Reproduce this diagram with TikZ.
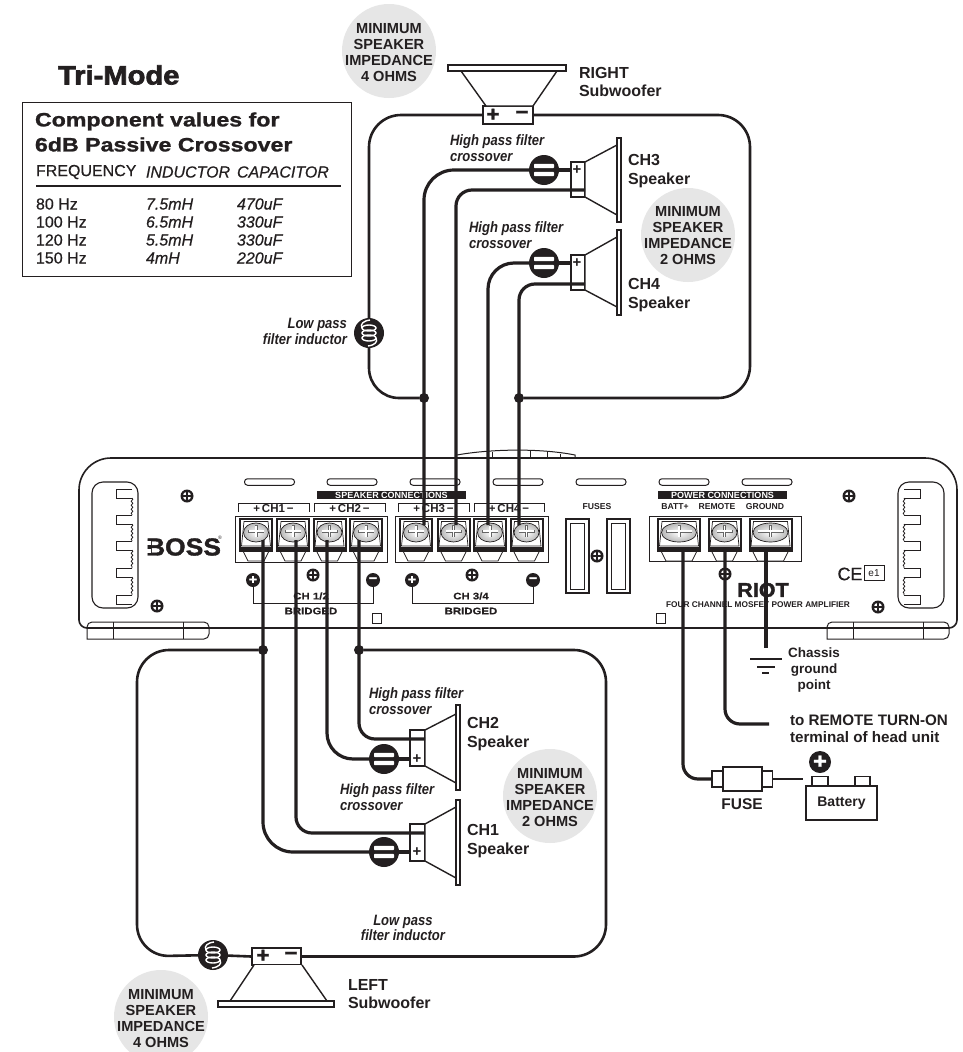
\documentclass[tikz,border=0pt]{standalone}
\usepackage{fontspec}
\setmainfont{Liberation Sans}
\usetikzlibrary{decorations.pathmorphing}
\newfontfamily\heavyf[FakeStretch=1.08,FakeBold=1.5]{Liberation Sans}
\newfontfamily\titlef[FakeStretch=1.1,FakeBold=2.5]{Liberation Sans}
\newfontfamily\widef[FakeStretch=1.2,FakeBold=1.2]{Liberation Sans}
\newfontfamily\tinyf[FakeStretch=1.2,FakeBold=0.4]{Liberation Sans}
\newfontfamily\condf[FakeStretch=0.87]{Liberation Sans}
\newfontfamily\semif[FakeBold=0.5]{Liberation Sans}
\definecolor{ink}{HTML}{231F20}
\definecolor{disc}{HTML}{E6E6E6}
\newcommand\fs[2]{\fontsize{#1}{#2}\selectfont}
\tikzset{
  wire/.style={draw=ink,line width=3.2},
  loopwire/.style={draw=ink,line width=2.6},
  thin line/.style={draw=ink,line width=1.1},
  part/.style={draw=ink,line width=1.4,fill=white},
  txt/.style={inner sep=0,outer sep=0,text=ink},
  lab/.style={txt,anchor=west,align=left,font=\bfseries\fs{16}{18.6}},
  hpf/.style={txt,anchor=west,align=left,font=\condf\bfseries\itshape\fs{15}{15.5}},
  lpf/.style={hpf},
  imptext/.style={txt,align=center,font=\bfseries\fs{14.6}{16}},
  disk/.style={circle,fill=disc,minimum size=94,inner sep=0},
  amptext/.style={txt,font=\bfseries\fs{8.6}{10}},
  jdot/.style={circle,fill=ink,minimum size=10,inner sep=0},
  filt/.style={circle,fill=ink,minimum size=30,inner sep=0,path picture={
      \fill[white,rounded corners=0.8] ([xshift=-10,yshift=1.8]path picture bounding box.center) rectangle ([xshift=10,yshift=6.2]path picture bounding box.center);
      \fill[white,rounded corners=0.8] ([xshift=-10,yshift=-6.2]path picture bounding box.center) rectangle ([xshift=10,yshift=-1.8]path picture bounding box.center);
  }},
  coil/.style={circle,fill=ink,minimum size=30,inner sep=0,path picture={
      \draw[white,line width=1.4] (path picture bounding box.center) ellipse [x radius=7,y radius=3];
      \draw[white,line width=1.4] ([yshift=5]path picture bounding box.center) ellipse [x radius=7,y radius=3];
      \draw[white,line width=1.4] ([yshift=-5]path picture bounding box.center) ellipse [x radius=7,y radius=3];
      \draw[white,line width=1.4] ([xshift=1,yshift=13]path picture bounding box.center) .. controls ([xshift=-6,yshift=12]path picture bounding box.center) and ([xshift=-9,yshift=9]path picture bounding box.center) .. ([xshift=-7,yshift=5]path picture bounding box.center);
      \draw[white,line width=1.4] ([xshift=-1,yshift=-13]path picture bounding box.center) .. controls ([xshift=6,yshift=-12]path picture bounding box.center) and ([xshift=9,yshift=-9]path picture bounding box.center) .. ([xshift=7,yshift=-5]path picture bounding box.center);
  }},
  screwn/.style={circle,fill=ink,minimum size=13,inner sep=0,path picture={
      \fill[white] (path picture bounding box.center) circle [radius=4.2];
      \draw[ink,line width=1.5] ([xshift=-5]path picture bounding box.center) -- ([xshift=5]path picture bounding box.center);
      \draw[ink,line width=1.5] ([yshift=-5]path picture bounding box.center) -- ([yshift=5]path picture bounding box.center);
  }},
  pol/.style={circle,fill=ink,minimum size=14,inner sep=0,text=white,font=\heavyf\bfseries\fs{13}{13}},
  slotn/.style={draw=ink,line width=1,rounded corners=3,minimum width=50,minimum height=6.5,inner sep=0,fill=white},
  banner/.style={fill=ink,text=white,inner sep=0,minimum height=8,font=\bfseries\fs{9}{9}},
}
% terminal: name, centre x, half width
\newcommand\term[3]{%
  \coordinate (#1) at (#2,535);
  \draw[ink,line width=.7,fill=white] ({#2-#3+3},551) -- ({#2-#3+8},561) -- ({#2+#3-8},561) -- ({#2+#3-3},551);
  \draw[ink,line width=2,fill=white] ({#2-#3},519) rectangle ({#2+#3},551);
  \draw[ink,line width=.7] ({#2-#3+4},521.5) -- ({#2+#3-4},521.5) -- ({#2+#3-1.5},546) -- ({#2-#3+1.5},546) -- cycle;
  \fill[ink] ({#2-#3},546.5) rectangle ({#2+#3},551);
  \shade[inner color=white,outer color=black!28] (#2,532.5) ellipse [x radius=#3-3.5,y radius=9.5];
  \draw[ink,line width=.7] (#2,532.5) ellipse [x radius=#3-3.5,y radius=9.5];
  \draw[black!60,line width=3] ({#2-#3+8},531) -- ({#2+#3-8},531);
  \draw[black!60,line width=3] (#2,525) -- (#2,537);
  \draw[white,line width=1.4] ({#2-#3+8.5},531) -- ({#2+#3-8.5},531);
  \draw[white,line width=1.4] (#2,525.5) -- (#2,536.5);
}
% heat-sink handle, drawn at the left; used mirrored at the right
\newcommand\handle{%
  \draw[ink,line width=1.1,rounded corners=11] (92,482) rectangle (138,608);
  \foreach \ya/\yb in {489/515,515/541,541/568,568/595}{
    \draw[ink,line width=1] (132,\ya) -- (116,\ya) -- (116,\ya+9) -- (132,\ya+9);
    \draw[ink,line width=.8,decorate,decoration={snake,amplitude=.8,segment length=4}] (132,\ya+9) -- (132,\yb);
  }
  \draw[ink,line width=1] (132,595) -- (116,595) -- (116,604) -- (132,604);
}
\newcommand\foot[1]{%
  \draw[ink,line width=1,rounded corners=5] (#1,639) -- (#1,622) -- (#1+122,622) -- (#1+122,639) [sharp corners] -- cycle;
  \draw[ink,line width=1] (#1+26,622) -- (#1+26,639) (#1+96,622) -- (#1+96,639);
}
\begin{document}
\begin{tikzpicture}[x=1pt,y=-1pt]
\useasboundingbox (0,0) rectangle (962,1052);
\clip (0,0) rectangle (962,1052);
\fill[white] (0,0) rectangle (962,1052);

% ---------- grey impedance disks
\node[disk] (d1) at (389,51) {};
\node[disk] (d2) at (688,235) {};
\node[disk] (d3) at (550,796) {};
\node[disk] (d4) at (161,1017) {};
\node[imptext] (d1t) at (389,53) {MINIMUM\\SPEAKER\\IMPEDANCE\\4 OHMS};
\node[imptext] (d2t) at (688,236) {MINIMUM\\SPEAKER\\IMPEDANCE\\2 OHMS};
\node[imptext] (d3t) at (550,798) {MINIMUM\\SPEAKER\\IMPEDANCE\\2 OHMS};
\node[imptext] (d4t) at (161,1019) {MINIMUM\\SPEAKER\\IMPEDANCE\\4 OHMS};

% ---------- title and table
\node[txt,anchor=west,font=\titlef\bfseries\fs{26.5}{26.5}] (title) at (58,75) {Tri-Mode};
\node[draw=ink,line width=1,minimum width=329,minimum height=174,inner sep=0] (tbl) at (186.5,189) {};
\node[txt,anchor=west,align=left,font=\widef\bfseries\fs{19.3}{25}] (tblh) at (35,132) {Component values for\\6dB Passive Crossover};
\node[txt,anchor=west,font=\semif\fs{16}{16}] (c1h) at (36,172) {FREQUENCY};
\node[txt,anchor=west,font=\semif\itshape\fs{16}{16}] (c2h) at (146,172) {INDUCTOR};
\node[txt,anchor=west,font=\semif\itshape\fs{16}{16}] (c3h) at (237,172) {CAPACITOR};
\coordinate (ruleA) at (36,186); \coordinate (ruleB) at (341,186);
\draw[ink,line width=1.6] (ruleA) -- (ruleB);
\node[txt,anchor=west,align=left,font=\semif\fs{16}{18}] (c1) at (36,231) {80 Hz\\100 Hz\\120 Hz\\150 Hz};
\node[txt,anchor=west,align=left,font=\semif\itshape\fs{16}{18}] (c2) at (146,231) {7.5mH\\6.5mH\\5.5mH\\4mH};
\node[txt,anchor=west,align=left,font=\semif\itshape\fs{16}{18}] (c3) at (237,231) {470uF\\330uF\\330uF\\220uF};

% ---------- amplifier body
\draw[ink,line width=1.6] (100,628) [rounded corners=8] -- (79,628) [rounded corners=32] -- (79,458) -- (957,458) [rounded corners=8] -- (957,628) -- cycle;
\draw[ink,line width=1] (457,455) .. controls (490,449) and (540,448) .. (575,455) -- (575,458);
\foreach \x/\y in {492/451.5,530/451,547/452,560/453.5}{\draw[ink,line width=.8] (\x,\y) -- (\x,458);}
\foot{87}
\foot{827}
\handle
\begin{scope}[shift={(1036,0)},xscale=-1]
\handle
\end{scope}
\foreach \n/\x in {s1/269.5,s2/352,s3/435,s4/518,s5/601,s6/684,s7/767}{\node[slotn] (\n) at (\x,482) {};}
\node[banner,minimum width=149] (spkb) at (391.5,495) {SPEAKER CONNECTIONS};
\node[banner,minimum width=129] (pwrb) at (722.5,495) {POWER CONNECTIONS};

% brackets + labels
\foreach \a/\b in {238/309,314/385,398/469,474/544}{\draw[ink,line width=.9] (\a,512) -- (\a,503.5) -- (\b,503.5) -- (\b,512);}
\foreach \n/\x/\t in {b1/273.5/CH1,b2/349.5/CH2,b3/433.5/CH3,b4/509/CH4}{
  \node[txt,font=\bfseries\fs{11.5}{11.5},fill=white,inner xsep=1,inner ysep=0] (\n) at (\x,509) {+\,\t\,−};
}
% terminal blocks
\draw[ink,line width=1,fill=white] (235,516) rectangle (387,562);
\draw[ink,line width=1,fill=white] (395,516) rectangle (548,562);
\draw[ink,line width=1,fill=white] (649,516) rectangle (801,561);
\term{tA}{256}{16}\term{tB}{293}{16}\term{tC}{329.5}{16}\term{tD}{366}{16}
\term{tE}{416}{16}\term{tF}{453.5}{16}\term{tG}{490}{16}\term{tH}{526.5}{16}
\term{tI}{679}{21}\term{tJ}{724.5}{16}\term{tK}{770.5}{21}
\node[amptext] (pb) at (675,507) {BATT+};
\node[amptext] (pr) at (717,507) {REMOTE};
\node[amptext] (pg) at (765,507) {GROUND};
\node[amptext] (ff) at (597,507) {FUSES};
% fuses
\foreach \a in {566,607}{
  \draw[ink,line width=2] (\a,519) rectangle (\a+22.5,593);
  \draw[ink,line width=.6] (\a+4,523) rectangle (\a+18.5,589);
}
% screws
\foreach \n/\x/\y in {sa/187/496,sb/157/606,sc/313/575,sd/472/575,se/597/556,sf/725/574,sg/849/496,sh/878/607}{
  \node[screwn] (\n) at (\x,\y) {};
}
% bridged markers
\node[pol] (p1) at (253,580) {+};
\node[pol] (m1) at (373,580) {−};
\node[pol] (p2) at (412,580) {+};
\node[pol] (m2) at (533,580) {−};
\draw[ink,line width=.9] (p1) -- (253,603) -- (373,603) -- (m1);
\draw[ink,line width=.9] (p2) -- (412,603) -- (533,603) -- (m2);
\node[txt,font=\tinyf\bfseries\fs{9.5}{9.5},fill=white,inner xsep=1] (br1a) at (311,596) {CH 1/2};
\node[txt,font=\tinyf\bfseries\fs{9.5}{9.5},fill=white,inner xsep=1] (br1b) at (311,611) {BRIDGED};
\node[txt,font=\tinyf\bfseries\fs{9.5}{9.5},fill=white,inner xsep=1] (br2a) at (471,596) {CH 3/4};
\node[txt,font=\tinyf\bfseries\fs{9.5}{9.5},fill=white,inner xsep=1] (br2b) at (471,611) {BRIDGED};
% small squares
\draw[ink,line width=.9] (372,613) rectangle (381,623);
\draw[ink,line width=.9] (656,613) rectangle (665,623);
% logo etc
\node[txt,anchor=west,font=\heavyf\bfseries\fs{24.5}{24.5}] (boss) at (146,547) {BOSS};
\fill[white] (145,540.6) rectangle (151,544.6);
\fill[white] (145,549.4) rectangle (151,553.4);
\node[txt,font=\fs{5}{5}] (reg) at (220,538) {®};
\node[txt,font=\heavyf\bfseries\fs{20}{20}] (riot) at (763,590) {RIOT};
\node[txt,anchor=west,font=\bfseries\fs{8.3}{8.3}] (four) at (666,605) {FOUR CHANNEL MOSFET POWER AMPLIFIER};
\node[txt,font=\semif\fs{18}{18}] (ce) at (850,574) {CE};
\node[draw=ink,line width=.9,minimum width=20,minimum height=15,inner sep=0,font=\fs{10}{10},text=ink] (e1) at (874,573) {e1};

% ---------- speakers: upper group
\node[part,minimum width=50,minimum height=18,inner sep=0] (subR) at (508,115) {};
\draw[part] (461,71) -- (486,106) -- (533,106) -- (557,71) -- cycle;
\draw[part,line width=1.7] (448,65) rectangle (566,71);
\draw[part] (571,162) rectangle (585,197);
\draw[part] (585,162) -- (617,145) -- (617,215) -- (585,197) -- cycle;
\draw[part] (617,138) rectangle (621,222);
\draw[part] (571,255) rectangle (585,290);
\draw[part] (585,255) -- (617,237) -- (617,307) -- (585,290) -- cycle;
\draw[part] (617,230) rectangle (621,315);
% lower group
\draw[part] (410,730) rectangle (425,766);
\draw[part] (425,730) -- (456,714) -- (456,783) -- (425,766) -- cycle;
\draw[part] (456,705) rectangle (460,790);
\draw[part] (410,824) rectangle (425,861);
\draw[part] (425,824) -- (456,807) -- (456,878) -- (425,861) -- cycle;
\draw[part] (456,800) rectangle (460,885);
\node[part,minimum width=49,minimum height=17,inner sep=0] (subL) at (276.5,956.5) {};
\draw[part] (254,965) -- (230,1001) -- (327,1001) -- (302,965);
\draw[part,line width=1.7] (218,1001) rectangle (334,1007);

% ---------- nodes on the wires
\node[filt] (hp3) at (544,170) {};
\node[filt] (hp4) at (544,263) {};
\node[filt] (hp2) at (384,759) {};
\node[filt] (hp1) at (384,852) {};
\node[coil] (ind1) at (369,333) {};
\node[coil] (ind2) at (213,955) {};
\node[jdot] (ja) at (424,398) {};
\node[jdot] (jb) at (519,398) {};
\node[jdot] (jc) at (263,650) {};
\node[jdot] (jd) at (359,650) {};

% named wire points
\coordinate (W3p) at (424,525); \coordinate (W3m) at (456,525);
\coordinate (W4p) at (488,525); \coordinate (W4m) at (519,525);
\coordinate (W1p) at (263,540); \coordinate (W1m) at (296,540);
\coordinate (W2p) at (327,540); \coordinate (W2m) at (359,540);
\coordinate (S3p) at (571,170); \coordinate (S3m) at (585,190);
\coordinate (S4p) at (571,263); \coordinate (S4m) at (585,284);
\coordinate (S2p) at (410,759); \coordinate (S2m) at (425,739);
\coordinate (S1p) at (410,852); \coordinate (S1m) at (425,833);
\coordinate (cTR) at (750,115); \coordinate (cBR) at (750,398);
\coordinate (cTL) at (137,650); \coordinate (cBL) at (137,956.5);
\coordinate (cTRb) at (606,650); \coordinate (cBRb) at (606,956.5);

% ---------- wires
\draw[wire,rounded corners=30] (W3p) |- (hp3);
\draw[wire] (hp3) -- (S3p);
\draw[wire,rounded corners=16] (W3m) |- (S3m);
\draw[wire,rounded corners=26] (W4p) |- (hp4);
\draw[wire] (hp4) -- (S4p);
\draw[wire,rounded corners=16] (W4m) |- (S4m);
\draw[wire,rounded corners=30] (W1p) |- (hp1);
\draw[wire] (hp1) -- (S1p);
\draw[wire,rounded corners=16] (W1m) |- (S1m);
\draw[wire,rounded corners=26] (W2p) |- (hp2);
\draw[wire] (hp2) -- (S2p);
\draw[wire,rounded corners=16] (W2m) |- (S2m);
\draw[loopwire,rounded corners=32] (subR.west) -| (ind1);
\draw[loopwire,rounded corners=30] (ind1) |- (ja);
\draw[loopwire,rounded corners=32] (subR.east) -- (cTR) -- (cBR) -- (jb);
\draw[loopwire,rounded corners=32] (jc) -- (cTL) -- (cBL) -- (ind2);
\draw[loopwire] (ind2) -- (subL.west);
\draw[loopwire,rounded corners=32] (subL.east) -- (cBRb) -- (cTRb) -- (jd);

% polarity marks on speaker terminals
\node[txt,font=\bfseries\fs{15}{15}] (pl3) at (577,170) {+};
\node[txt,font=\bfseries\fs{15}{15}] (pl4) at (577,263) {+};
\node[txt,font=\bfseries\fs{15}{15}] (pl2) at (417,759) {+};
\node[txt,font=\bfseries\fs{15}{15}] (pl1) at (417,852) {+};
\node[txt,font=\heavyf\bfseries\fs{21}{21}] (srp) at (493,115) {+};
\node[txt,font=\heavyf\bfseries\fs{21}{21}] (srm) at (522,115) {−};
\node[txt,font=\heavyf\bfseries\fs{21}{21}] (slp) at (263,956) {+};
\node[txt,font=\heavyf\bfseries\fs{21}{21}] (slm) at (291,956) {−};

% ---------- power side
\node[part,minimum width=11,minimum height=16,inner sep=0] (fuL) at (717.5,779) {};
\node[part,minimum width=11,minimum height=16,inner sep=0] (fuR) at (767,779) {};
\node[part,minimum width=39,minimum height=24,inner sep=0] (fuB) at (742.5,779) {};
\node[part,minimum width=16,minimum height=9,inner sep=0] (bt1) at (820,781) {};
\node[part,minimum width=15,minimum height=9,inner sep=0] (bt2) at (862.5,781) {};
\node[part,minimum width=71,minimum height=34,inner sep=0,font=\bfseries\fs{14}{14},text=ink] (batt) at (841.5,803) {\raisebox{-3pt}{Battery}};
\node[pol,minimum size=22,font=\heavyf\bfseries\fs{22}{22}] (bp) at (820,762) {+};
\node[txt,font=\bfseries\fs{15.5}{15.5}] (fuset) at (742,804) {FUSE};
\coordinate (Wb) at (683,552); \coordinate (Wr) at (725,552); \coordinate (Wg) at (766,552);
\coordinate (Gt) at (766,648); \coordinate (Rend) at (769,724); \coordinate (Bin) at (803,779);
\draw[wire,rounded corners=15] (Wb) |- (fuL);
\draw[wire,line width=2.6] (fuR) -- (Bin);
\draw[wire,rounded corners=15] (Wr) |- (Rend);
\draw[wire,line width=4] (Wg) -- (Gt);
\draw[ink,line width=2.2] (750,659) -- (782,659);
\draw[ink,line width=2.2] (757,667) -- (775,667);
\draw[ink,line width=2.2] (762,673) -- (769,673);
\node[txt,align=center,font=\bfseries\fs{13.5}{15.8}] (chg) at (814,670) {Chassis\\ground\\point};
\node[lab,font=\bfseries\fs{15.2}{17.2}] (rem) at (790,729) {to REMOTE TURN-ON\\terminal of head unit};

% ---------- labels
\node[lab] (lr) at (579,82) {RIGHT\\Subwoofer};
\node[lab] (l3) at (628,171) {CH3\\Speaker};
\node[lab] (l4) at (628,295) {CH4\\Speaker};
\node[lab] (l2) at (467,734) {CH2\\Speaker};
\node[lab] (l1) at (467,841) {CH1\\Speaker};
\node[lab] (ll) at (348,994) {LEFT\\Subwoofer};
\node[hpf] (h3) at (450,148) {High pass filter\\crossover};
\node[hpf] (h4) at (469,235) {High pass filter\\crossover};
\node[hpf] (h2) at (369,701) {High pass filter\\crossover};
\node[hpf] (h1) at (340,797) {High pass filter\\crossover};
\node[txt,align=right,anchor=east,font=\condf\bfseries\itshape\fs{15}{16}] (lp1) at (347,331) {Low pass\\filter inductor};
\node[txt,align=center,font=\condf\bfseries\itshape\fs{15}{15.5}] (lp2) at (403,928) {Low pass\\filter inductor};
\end{tikzpicture}
\end{document}
